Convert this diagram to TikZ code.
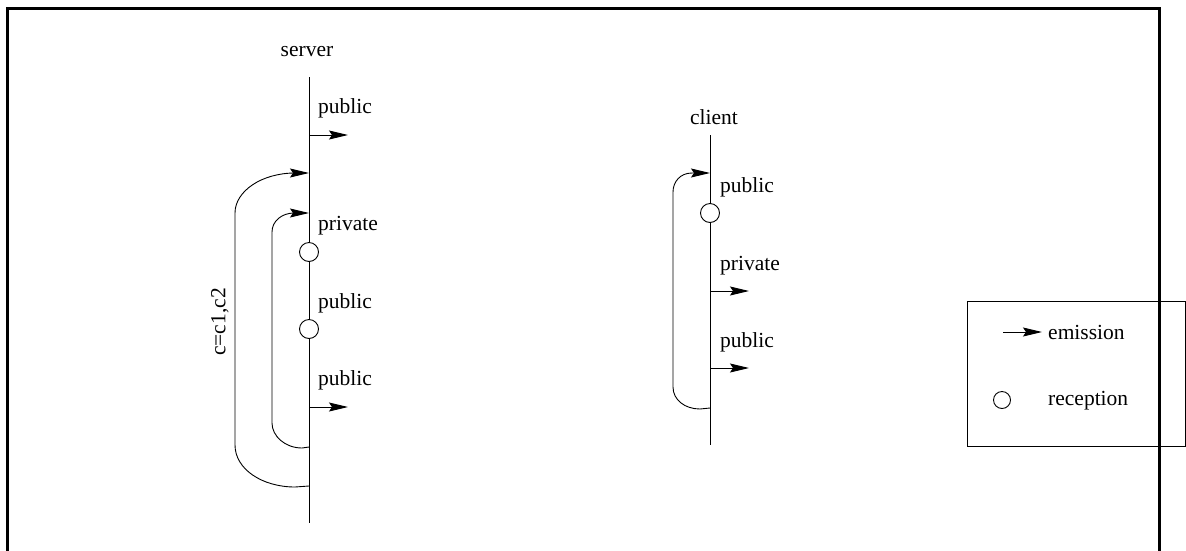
\documentclass[tikz,border=0pt]{standalone}
\usepackage{fontspec}
\setmainfont{Liberation Serif}
\usetikzlibrary{arrows.meta}
\begin{document}
\begin{tikzpicture}[x=1pt,y=-1pt,
  every node/.style={font=\fontsize{21.5}{25}\selectfont, inner sep=0pt},
  ln/.style={line width=0.9pt},
  emit/.style={ln,-{Stealth[length=19pt,width=9pt,inset=3pt]}},
  recv/.style={circle, draw, line width=0.9pt, fill=white, minimum size=19pt},
  lbl/.style={anchor=west}]
\useasboundingbox (0,0) rectangle (1186,550);
\begin{scope}
\clip (0,0) rectangle (1186,550);
\draw[line width=3pt] (7.5,560) -- (7.5,8) -- (1159,8) -- (1159,560);
\end{scope}
% server
\node (srv) at (307,52) {server};
\coordinate (st) at (309,77);
\coordinate (sb) at (309,523);
\draw[ln] (st) -- (sb);
\coordinate (e1) at (309,135); \coordinate (e1e) at (348,135);
\draw[emit] (e1) -- (e1e);
\node[lbl] (l1) at (318,108) {public};
\node[recv] (r1) at (309,252) {};
\node[lbl] (l2) at (318,226) {private};
\node[recv] (r2) at (309,329) {};
\node[lbl] (l3) at (318,303) {public};
\coordinate (e2) at (309,407); \coordinate (e2e) at (348,407);
\draw[emit] (e2) -- (e2e);
\node[lbl] (l4) at (318,380) {public};
% loops
\coordinate (bA) at (309,486); \coordinate (bB) at (309,173);
\draw[emit] (bA) -- (295,487) .. controls (262,487) and (235,469) .. (235,445) -- (235,213) .. controls (235,191) and (262,173) .. (295,173) -- (bB);
\coordinate (sA) at (309,447); \coordinate (sB) at (309,213);
\draw[emit] (sA) -- (302,448) .. controls (285,448) and (272,436) .. (272,423) -- (272,232) .. controls (272,221) and (282,213) .. (294,213) -- (sB);
\node[rotate=90] (cc) at (220,322) {c=c1,c2};
% client
\node (cli) at (714,117) {client};
\coordinate (ct) at (710,135);
\coordinate (cb) at (710,445);
\draw[ln] (ct) -- (cb);
\coordinate (cA) at (710,408); \coordinate (cB) at (710,173);
\draw[emit] (cA) -- (700,409) .. controls (685,409) and (673,400) .. (673,387) -- (673,192) .. controls (673,182) and (680,173) .. (692,173) -- (cB);
\node[recv] (r3) at (710,213) {};
\node[lbl] (l5) at (720,187) {public};
\coordinate (e3) at (710,291); \coordinate (e3e) at (749,291);
\draw[emit] (e3) -- (e3e);
\node[lbl] (l6) at (720,266) {private};
\coordinate (e4) at (710,368); \coordinate (e4e) at (749,368);
\draw[emit] (e4) -- (e4e);
\node[lbl] (l7) at (720,342) {public};
% legend
\node[draw, line width=0.7pt, minimum width=218pt, minimum height=145pt, anchor=north west] (leg) at (967,301) {};
\coordinate (le) at (1003,332); \coordinate (lee) at (1042,332);
\draw[emit] (le) -- (lee);
\node[lbl] (em) at (1048,332) {emission};
\node[recv, minimum size=17pt] (lr) at (1002,400) {};
\node[lbl] (re) at (1048,401) {reception};
\end{tikzpicture}
\end{document}
